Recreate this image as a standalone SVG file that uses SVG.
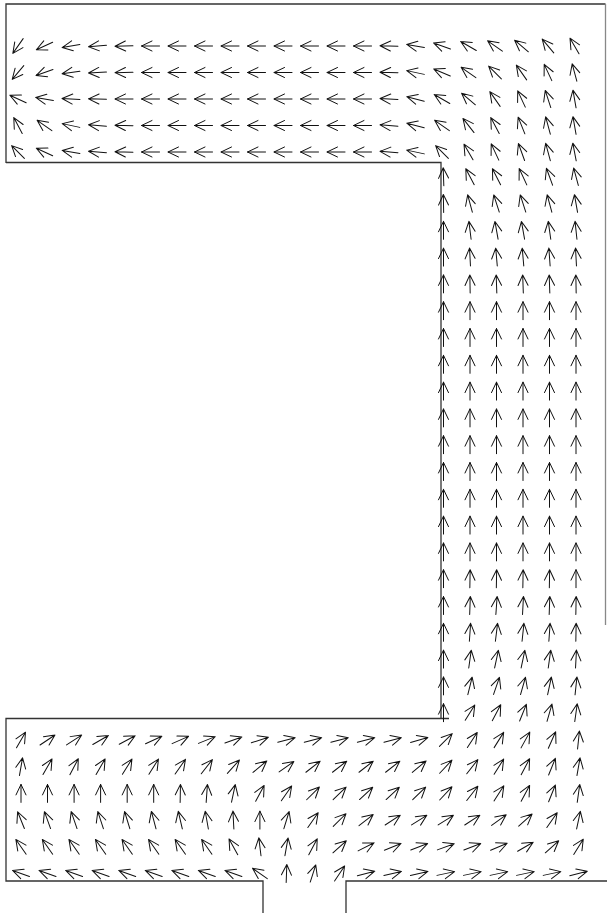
<svg xmlns="http://www.w3.org/2000/svg" width="607" height="913" viewBox="0 0 607 913">
<style>
.v{fill:none;stroke:#111;stroke-width:1;stroke-linecap:round;stroke-linejoin:round}
.b{fill:none;stroke:#333;stroke-width:1.3}
</style>
<defs>
<path id="a" d="M-9,0H9M-1.5,-5L9,0L-1.5,5"/>
</defs>
<rect width="607" height="913" fill="#fff"/>
<g id="boundary" class="b">
<path d="M6,163V4H605.5"/>
<path d="M605.5,4V625" stroke="#888"/>
<path d="M6,162.5H441V718"/>
<path d="M449,718.5H6V881H263V913"/>
<path d="M346,913V881H607"/>
</g>
<g id="field-top" class="v">
<g transform="translate(0,46)">
<use href="#a" transform="translate(18) rotate(-235)"/><use href="#a" transform="translate(44.5) rotate(-205)"/><use href="#a" transform="translate(71) rotate(-190)"/><use href="#a" transform="translate(97.5) rotate(-185)"/><use href="#a" transform="translate(124) rotate(-182)"/><use href="#a" transform="translate(150.5) rotate(-180)"/><use href="#a" transform="translate(177) rotate(-180)"/><use href="#a" transform="translate(203.5) rotate(-180)"/><use href="#a" transform="translate(230) rotate(-180)"/><use href="#a" transform="translate(256.5) rotate(-180)"/><use href="#a" transform="translate(283) rotate(-180)"/><use href="#a" transform="translate(309.5) rotate(-180)"/><use href="#a" transform="translate(336) rotate(-180)"/><use href="#a" transform="translate(362.5) rotate(-180)"/><use href="#a" transform="translate(389) rotate(-178)"/><use href="#a" transform="translate(415.5) rotate(-170)"/><use href="#a" transform="translate(442) rotate(-160)"/><use href="#a" transform="translate(468.5) rotate(-150)"/><use href="#a" transform="translate(495) rotate(-145)"/><use href="#a" transform="translate(521.5) rotate(-140)"/><use href="#a" transform="translate(548) rotate(-130)"/><use href="#a" transform="translate(574.5) rotate(-120)"/>
</g>
<g transform="translate(0,72.5)">
<use href="#a" transform="translate(18) rotate(-230)"/><use href="#a" transform="translate(44.5) rotate(-200)"/><use href="#a" transform="translate(71) rotate(-188)"/><use href="#a" transform="translate(97.5) rotate(-183)"/><use href="#a" transform="translate(124) rotate(-181)"/><use href="#a" transform="translate(150.5) rotate(-180)"/><use href="#a" transform="translate(177) rotate(-180)"/><use href="#a" transform="translate(203.5) rotate(-180)"/><use href="#a" transform="translate(230) rotate(-180)"/><use href="#a" transform="translate(256.5) rotate(-180)"/><use href="#a" transform="translate(283) rotate(-180)"/><use href="#a" transform="translate(309.5) rotate(-180)"/><use href="#a" transform="translate(336) rotate(-180)"/><use href="#a" transform="translate(362.5) rotate(-180)"/><use href="#a" transform="translate(389) rotate(-178)"/><use href="#a" transform="translate(415.5) rotate(-168)"/><use href="#a" transform="translate(442) rotate(-157)"/><use href="#a" transform="translate(468.5) rotate(-145)"/><use href="#a" transform="translate(495) rotate(-135)"/><use href="#a" transform="translate(521.5) rotate(-125)"/><use href="#a" transform="translate(548) rotate(-115)"/><use href="#a" transform="translate(574.5) rotate(-105)"/>
</g>
<g transform="translate(0,99)">
<use href="#a" transform="translate(18) rotate(-155)"/><use href="#a" transform="translate(44.5) rotate(-170)"/><use href="#a" transform="translate(71) rotate(-177)"/><use href="#a" transform="translate(97.5) rotate(-179)"/><use href="#a" transform="translate(124) rotate(-180)"/><use href="#a" transform="translate(150.5) rotate(-180)"/><use href="#a" transform="translate(177) rotate(-180)"/><use href="#a" transform="translate(203.5) rotate(-180)"/><use href="#a" transform="translate(230) rotate(-180)"/><use href="#a" transform="translate(256.5) rotate(-180)"/><use href="#a" transform="translate(283) rotate(-180)"/><use href="#a" transform="translate(309.5) rotate(-180)"/><use href="#a" transform="translate(336) rotate(-180)"/><use href="#a" transform="translate(362.5) rotate(-180)"/><use href="#a" transform="translate(389) rotate(-177)"/><use href="#a" transform="translate(415.5) rotate(-165)"/><use href="#a" transform="translate(442) rotate(-150)"/><use href="#a" transform="translate(468.5) rotate(-140)"/><use href="#a" transform="translate(495) rotate(-125)"/><use href="#a" transform="translate(521.5) rotate(-115)"/><use href="#a" transform="translate(548) rotate(-108)"/><use href="#a" transform="translate(574.5) rotate(-100)"/>
</g>
<g transform="translate(0,125.5)">
<use href="#a" transform="translate(18) rotate(-118)"/><use href="#a" transform="translate(44.5) rotate(-145)"/><use href="#a" transform="translate(71) rotate(-168)"/><use href="#a" transform="translate(97.5) rotate(-175)"/><use href="#a" transform="translate(124) rotate(-178)"/><use href="#a" transform="translate(150.5) rotate(-180)"/><use href="#a" transform="translate(177) rotate(-180)"/><use href="#a" transform="translate(203.5) rotate(-180)"/><use href="#a" transform="translate(230) rotate(-180)"/><use href="#a" transform="translate(256.5) rotate(-180)"/><use href="#a" transform="translate(283) rotate(-180)"/><use href="#a" transform="translate(309.5) rotate(-180)"/><use href="#a" transform="translate(336) rotate(-180)"/><use href="#a" transform="translate(362.5) rotate(-180)"/><use href="#a" transform="translate(389) rotate(-176)"/><use href="#a" transform="translate(415.5) rotate(-165)"/><use href="#a" transform="translate(442) rotate(-145)"/><use href="#a" transform="translate(468.5) rotate(-128)"/><use href="#a" transform="translate(495) rotate(-118)"/><use href="#a" transform="translate(521.5) rotate(-112)"/><use href="#a" transform="translate(548) rotate(-105)"/><use href="#a" transform="translate(574.5) rotate(-100)"/>
</g>
<g transform="translate(0,152)">
<use href="#a" transform="translate(18) rotate(-135)"/><use href="#a" transform="translate(44.5) rotate(-155)"/><use href="#a" transform="translate(71) rotate(-170)"/><use href="#a" transform="translate(97.5) rotate(-175)"/><use href="#a" transform="translate(124) rotate(-178)"/><use href="#a" transform="translate(150.5) rotate(-180)"/><use href="#a" transform="translate(177) rotate(-180)"/><use href="#a" transform="translate(203.5) rotate(-180)"/><use href="#a" transform="translate(230) rotate(-180)"/><use href="#a" transform="translate(256.5) rotate(-180)"/><use href="#a" transform="translate(283) rotate(-180)"/><use href="#a" transform="translate(309.5) rotate(-180)"/><use href="#a" transform="translate(336) rotate(-180)"/><use href="#a" transform="translate(362.5) rotate(-180)"/><use href="#a" transform="translate(389) rotate(-176)"/><use href="#a" transform="translate(415.5) rotate(-168)"/><use href="#a" transform="translate(442) rotate(-135)"/><use href="#a" transform="translate(468.5) rotate(-120)"/><use href="#a" transform="translate(495) rotate(-115)"/><use href="#a" transform="translate(521.5) rotate(-110)"/><use href="#a" transform="translate(548) rotate(-105)"/><use href="#a" transform="translate(574.5) rotate(-101)"/>
</g>
</g>
<g id="field-channel" class="v">
<g transform="translate(0,176.7)"><use href="#a" transform="translate(443.5) rotate(-92)"/><use href="#a" transform="translate(470) rotate(-118)"/><use href="#a" transform="translate(496.5) rotate(-117)"/><use href="#a" transform="translate(523) rotate(-115)"/><use href="#a" transform="translate(549.5) rotate(-110)"/><use href="#a" transform="translate(576) rotate(-105)"/></g>
<g transform="translate(0,203.5)"><use href="#a" transform="translate(443.5) rotate(-91)"/><use href="#a" transform="translate(470) rotate(-105)"/><use href="#a" transform="translate(496.5) rotate(-108)"/><use href="#a" transform="translate(523) rotate(-108)"/><use href="#a" transform="translate(549.5) rotate(-105)"/><use href="#a" transform="translate(576) rotate(-100)"/></g>
<g transform="translate(0,230.3)"><use href="#a" transform="translate(443.5) rotate(-90)"/><use href="#a" transform="translate(470) rotate(-97)"/><use href="#a" transform="translate(496.5) rotate(-100)"/><use href="#a" transform="translate(523) rotate(-100)"/><use href="#a" transform="translate(549.5) rotate(-98)"/><use href="#a" transform="translate(576) rotate(-96)"/></g>
<g transform="translate(0,257.1)"><use href="#a" transform="translate(443.5) rotate(-90)"/><use href="#a" transform="translate(470) rotate(-93)"/><use href="#a" transform="translate(496.5) rotate(-95)"/><use href="#a" transform="translate(523) rotate(-95)"/><use href="#a" transform="translate(549.5) rotate(-94)"/><use href="#a" transform="translate(576) rotate(-93)"/></g>
<g transform="translate(0,283.9)"><use href="#a" transform="translate(443.5) rotate(-90)"/><use href="#a" transform="translate(470) rotate(-91)"/><use href="#a" transform="translate(496.5) rotate(-92)"/><use href="#a" transform="translate(523) rotate(-92)"/><use href="#a" transform="translate(549.5) rotate(-92)"/><use href="#a" transform="translate(576) rotate(-91)"/></g>
<g transform="translate(0,310.7)"><use href="#a" transform="translate(443.5) rotate(-90)"/><use href="#a" transform="translate(470) rotate(-90)"/><use href="#a" transform="translate(496.5) rotate(-90)"/><use href="#a" transform="translate(523) rotate(-90)"/><use href="#a" transform="translate(549.5) rotate(-90)"/><use href="#a" transform="translate(576) rotate(-90)"/></g>
<g transform="translate(0,337.5)"><use href="#a" transform="translate(443.5) rotate(-90)"/><use href="#a" transform="translate(470) rotate(-90)"/><use href="#a" transform="translate(496.5) rotate(-90)"/><use href="#a" transform="translate(523) rotate(-90)"/><use href="#a" transform="translate(549.5) rotate(-90)"/><use href="#a" transform="translate(576) rotate(-90)"/></g>
<g transform="translate(0,364.3)"><use href="#a" transform="translate(443.5) rotate(-90)"/><use href="#a" transform="translate(470) rotate(-90)"/><use href="#a" transform="translate(496.5) rotate(-90)"/><use href="#a" transform="translate(523) rotate(-90)"/><use href="#a" transform="translate(549.5) rotate(-90)"/><use href="#a" transform="translate(576) rotate(-90)"/></g>
<g transform="translate(0,391.1)"><use href="#a" transform="translate(443.5) rotate(-90)"/><use href="#a" transform="translate(470) rotate(-90)"/><use href="#a" transform="translate(496.5) rotate(-90)"/><use href="#a" transform="translate(523) rotate(-90)"/><use href="#a" transform="translate(549.5) rotate(-90)"/><use href="#a" transform="translate(576) rotate(-90)"/></g>
<g transform="translate(0,417.9)"><use href="#a" transform="translate(443.5) rotate(-90)"/><use href="#a" transform="translate(470) rotate(-90)"/><use href="#a" transform="translate(496.5) rotate(-90)"/><use href="#a" transform="translate(523) rotate(-90)"/><use href="#a" transform="translate(549.5) rotate(-90)"/><use href="#a" transform="translate(576) rotate(-90)"/></g>
<g transform="translate(0,444.7)"><use href="#a" transform="translate(443.5) rotate(-90)"/><use href="#a" transform="translate(470) rotate(-90)"/><use href="#a" transform="translate(496.5) rotate(-90)"/><use href="#a" transform="translate(523) rotate(-90)"/><use href="#a" transform="translate(549.5) rotate(-90)"/><use href="#a" transform="translate(576) rotate(-90)"/></g>
<g transform="translate(0,471.5)"><use href="#a" transform="translate(443.5) rotate(-90)"/><use href="#a" transform="translate(470) rotate(-90)"/><use href="#a" transform="translate(496.5) rotate(-90)"/><use href="#a" transform="translate(523) rotate(-90)"/><use href="#a" transform="translate(549.5) rotate(-90)"/><use href="#a" transform="translate(576) rotate(-90)"/></g>
<g transform="translate(0,498.3)"><use href="#a" transform="translate(443.5) rotate(-90)"/><use href="#a" transform="translate(470) rotate(-90)"/><use href="#a" transform="translate(496.5) rotate(-90)"/><use href="#a" transform="translate(523) rotate(-90)"/><use href="#a" transform="translate(549.5) rotate(-90)"/><use href="#a" transform="translate(576) rotate(-90)"/></g>
<g transform="translate(0,525.1)"><use href="#a" transform="translate(443.5) rotate(-90)"/><use href="#a" transform="translate(470) rotate(-90)"/><use href="#a" transform="translate(496.5) rotate(-90)"/><use href="#a" transform="translate(523) rotate(-90)"/><use href="#a" transform="translate(549.5) rotate(-90)"/><use href="#a" transform="translate(576) rotate(-90)"/></g>
<g transform="translate(0,551.9)"><use href="#a" transform="translate(443.5) rotate(-90)"/><use href="#a" transform="translate(470) rotate(-90)"/><use href="#a" transform="translate(496.5) rotate(-90)"/><use href="#a" transform="translate(523) rotate(-90)"/><use href="#a" transform="translate(549.5) rotate(-90)"/><use href="#a" transform="translate(576) rotate(-90)"/></g>
<g transform="translate(0,578.7)"><use href="#a" transform="translate(443.5) rotate(-90)"/><use href="#a" transform="translate(470) rotate(-89)"/><use href="#a" transform="translate(496.5) rotate(-89)"/><use href="#a" transform="translate(523) rotate(-89)"/><use href="#a" transform="translate(549.5) rotate(-89)"/><use href="#a" transform="translate(576) rotate(-90)"/></g>
<g transform="translate(0,605.5)"><use href="#a" transform="translate(443.5) rotate(-90)"/><use href="#a" transform="translate(470) rotate(-88)"/><use href="#a" transform="translate(496.5) rotate(-86)"/><use href="#a" transform="translate(523) rotate(-87)"/><use href="#a" transform="translate(549.5) rotate(-88)"/><use href="#a" transform="translate(576) rotate(-89)"/></g>
<g transform="translate(0,632.3)"><use href="#a" transform="translate(443.5) rotate(-90)"/><use href="#a" transform="translate(470) rotate(-86)"/><use href="#a" transform="translate(496.5) rotate(-83)"/><use href="#a" transform="translate(523) rotate(-84)"/><use href="#a" transform="translate(549.5) rotate(-86)"/><use href="#a" transform="translate(576) rotate(-89)"/></g>
<g transform="translate(0,659.1)"><use href="#a" transform="translate(443.5) rotate(-90)"/><use href="#a" transform="translate(470) rotate(-82)"/><use href="#a" transform="translate(496.5) rotate(-78)"/><use href="#a" transform="translate(523) rotate(-78)"/><use href="#a" transform="translate(549.5) rotate(-82)"/><use href="#a" transform="translate(576) rotate(-87)"/></g>
<g transform="translate(0,685.9)"><use href="#a" transform="translate(443.5) rotate(-90)"/><use href="#a" transform="translate(470) rotate(-76)"/><use href="#a" transform="translate(496.5) rotate(-71)"/><use href="#a" transform="translate(523) rotate(-74)"/><use href="#a" transform="translate(549.5) rotate(-78)"/><use href="#a" transform="translate(576) rotate(-84)"/></g>
<g transform="translate(0,712.7)"><use href="#a" transform="translate(443.5) rotate(-90)"/><use href="#a" transform="translate(470) rotate(-58)"/><use href="#a" transform="translate(496.5) rotate(-62)"/><use href="#a" transform="translate(523) rotate(-68)"/><use href="#a" transform="translate(549.5) rotate(-74)"/><use href="#a" transform="translate(576) rotate(-82)"/></g>
</g>
<g id="field-bottom" class="v">
<g transform="translate(0,740)">
<use href="#a" transform="translate(21) rotate(-60)"/><use href="#a" transform="translate(47.5) rotate(-34)"/><use href="#a" transform="translate(74.1) rotate(-33)"/><use href="#a" transform="translate(100.6) rotate(-30)"/><use href="#a" transform="translate(127.2) rotate(-28)"/><use href="#a" transform="translate(153.7) rotate(-25)"/><use href="#a" transform="translate(180.3) rotate(-24)"/><use href="#a" transform="translate(206.8) rotate(-22)"/><use href="#a" transform="translate(233.4) rotate(-20)"/><use href="#a" transform="translate(259.9) rotate(-18)"/><use href="#a" transform="translate(286.5) rotate(-15)"/><use href="#a" transform="translate(313) rotate(-15)"/><use href="#a" transform="translate(339.6) rotate(-15)"/><use href="#a" transform="translate(366.1) rotate(-15)"/><use href="#a" transform="translate(392.7) rotate(-15)"/><use href="#a" transform="translate(419.2) rotate(-16)"/><use href="#a" transform="translate(445.8) rotate(-45)"/><use href="#a" transform="translate(472.3) rotate(-57)"/><use href="#a" transform="translate(498.9) rotate(-58)"/><use href="#a" transform="translate(525.4) rotate(-61)"/><use href="#a" transform="translate(552) rotate(-66)"/><use href="#a" transform="translate(578.5) rotate(-84)"/>
</g>
<g transform="translate(0,766.7)">
<use href="#a" transform="translate(21) rotate(-80)"/><use href="#a" transform="translate(47.5) rotate(-60)"/><use href="#a" transform="translate(74.1) rotate(-62)"/><use href="#a" transform="translate(100.6) rotate(-60)"/><use href="#a" transform="translate(127.2) rotate(-58)"/><use href="#a" transform="translate(153.7) rotate(-58)"/><use href="#a" transform="translate(180.3) rotate(-55)"/><use href="#a" transform="translate(206.8) rotate(-52)"/><use href="#a" transform="translate(233.4) rotate(-48)"/><use href="#a" transform="translate(259.9) rotate(-40)"/><use href="#a" transform="translate(286.5) rotate(-35)"/><use href="#a" transform="translate(313) rotate(-38)"/><use href="#a" transform="translate(339.6) rotate(-38)"/><use href="#a" transform="translate(366.1) rotate(-38)"/><use href="#a" transform="translate(392.7) rotate(-38)"/><use href="#a" transform="translate(419.2) rotate(-40)"/><use href="#a" transform="translate(445.8) rotate(-47)"/><use href="#a" transform="translate(472.3) rotate(-52)"/><use href="#a" transform="translate(498.9) rotate(-58)"/><use href="#a" transform="translate(525.4) rotate(-62)"/><use href="#a" transform="translate(552) rotate(-68)"/><use href="#a" transform="translate(578.5) rotate(-80)"/>
</g>
<g transform="translate(0,793.4)">
<use href="#a" transform="translate(21) rotate(-90)"/><use href="#a" transform="translate(47.5) rotate(-90)"/><use href="#a" transform="translate(74.1) rotate(-90)"/><use href="#a" transform="translate(100.6) rotate(-90)"/><use href="#a" transform="translate(127.2) rotate(-90)"/><use href="#a" transform="translate(153.7) rotate(-90)"/><use href="#a" transform="translate(180.3) rotate(-89)"/><use href="#a" transform="translate(206.8) rotate(-86)"/><use href="#a" transform="translate(233.4) rotate(-78)"/><use href="#a" transform="translate(259.9) rotate(-62)"/><use href="#a" transform="translate(286.5) rotate(-55)"/><use href="#a" transform="translate(313) rotate(-45)"/><use href="#a" transform="translate(339.6) rotate(-44)"/><use href="#a" transform="translate(366.1) rotate(-43)"/><use href="#a" transform="translate(392.7) rotate(-43)"/><use href="#a" transform="translate(419.2) rotate(-44)"/><use href="#a" transform="translate(445.8) rotate(-47)"/><use href="#a" transform="translate(472.3) rotate(-52)"/><use href="#a" transform="translate(498.9) rotate(-57)"/><use href="#a" transform="translate(525.4) rotate(-62)"/><use href="#a" transform="translate(552) rotate(-68)"/><use href="#a" transform="translate(578.5) rotate(-82)"/>
</g>
<g transform="translate(0,820.1)">
<use href="#a" transform="translate(21) rotate(-112)"/><use href="#a" transform="translate(47.5) rotate(-110)"/><use href="#a" transform="translate(74.1) rotate(-109)"/><use href="#a" transform="translate(100.6) rotate(-108)"/><use href="#a" transform="translate(127.2) rotate(-107)"/><use href="#a" transform="translate(153.7) rotate(-105)"/><use href="#a" transform="translate(180.3) rotate(-103)"/><use href="#a" transform="translate(206.8) rotate(-100)"/><use href="#a" transform="translate(233.4) rotate(-93)"/><use href="#a" transform="translate(259.9) rotate(-90)"/><use href="#a" transform="translate(286.5) rotate(-73)"/><use href="#a" transform="translate(313) rotate(-55)"/><use href="#a" transform="translate(339.6) rotate(-45)"/><use href="#a" transform="translate(366.1) rotate(-38)"/><use href="#a" transform="translate(392.7) rotate(-33)"/><use href="#a" transform="translate(419.2) rotate(-32)"/><use href="#a" transform="translate(445.8) rotate(-32)"/><use href="#a" transform="translate(472.3) rotate(-33)"/><use href="#a" transform="translate(498.9) rotate(-36)"/><use href="#a" transform="translate(525.4) rotate(-42)"/><use href="#a" transform="translate(552) rotate(-55)"/><use href="#a" transform="translate(578.5) rotate(-78)"/>
</g>
<g transform="translate(0,846.8)">
<use href="#a" transform="translate(21) rotate(-125)"/><use href="#a" transform="translate(47.5) rotate(-125)"/><use href="#a" transform="translate(74.1) rotate(-125)"/><use href="#a" transform="translate(100.6) rotate(-125)"/><use href="#a" transform="translate(127.2) rotate(-125)"/><use href="#a" transform="translate(153.7) rotate(-125)"/><use href="#a" transform="translate(180.3) rotate(-125)"/><use href="#a" transform="translate(206.8) rotate(-125)"/><use href="#a" transform="translate(233.4) rotate(-119)"/><use href="#a" transform="translate(259.9) rotate(-97)"/><use href="#a" transform="translate(286.5) rotate(-80)"/><use href="#a" transform="translate(313) rotate(-62)"/><use href="#a" transform="translate(339.6) rotate(-42)"/><use href="#a" transform="translate(366.1) rotate(-27)"/><use href="#a" transform="translate(392.7) rotate(-22)"/><use href="#a" transform="translate(419.2) rotate(-21)"/><use href="#a" transform="translate(445.8) rotate(-20)"/><use href="#a" transform="translate(472.3) rotate(-21)"/><use href="#a" transform="translate(498.9) rotate(-23)"/><use href="#a" transform="translate(525.4) rotate(-30)"/><use href="#a" transform="translate(552) rotate(-42)"/><use href="#a" transform="translate(578.5) rotate(-58)"/>
</g>
<g transform="translate(0,873.5)">
<use href="#a" transform="translate(21) rotate(-160)"/><use href="#a" transform="translate(47.5) rotate(-160)"/><use href="#a" transform="translate(74.1) rotate(-160)"/><use href="#a" transform="translate(100.6) rotate(-160)"/><use href="#a" transform="translate(127.2) rotate(-160)"/><use href="#a" transform="translate(153.7) rotate(-160)"/><use href="#a" transform="translate(180.3) rotate(-160)"/><use href="#a" transform="translate(206.8) rotate(-160)"/><use href="#a" transform="translate(233.4) rotate(-160)"/><use href="#a" transform="translate(259.9) rotate(-145)"/><use href="#a" transform="translate(286.5) rotate(-88)"/><use href="#a" transform="translate(313) rotate(-72)"/><use href="#a" transform="translate(339.6) rotate(-56)"/><use href="#a" transform="translate(366.1) rotate(-15)"/><use href="#a" transform="translate(392.7) rotate(-13)"/><use href="#a" transform="translate(419.2) rotate(-13)"/><use href="#a" transform="translate(445.8) rotate(-12)"/><use href="#a" transform="translate(472.3) rotate(-12)"/><use href="#a" transform="translate(498.9) rotate(-12)"/><use href="#a" transform="translate(525.4) rotate(-12)"/><use href="#a" transform="translate(552) rotate(-12)"/><use href="#a" transform="translate(578.5) rotate(-14)"/>
</g>
</g>
</svg>
